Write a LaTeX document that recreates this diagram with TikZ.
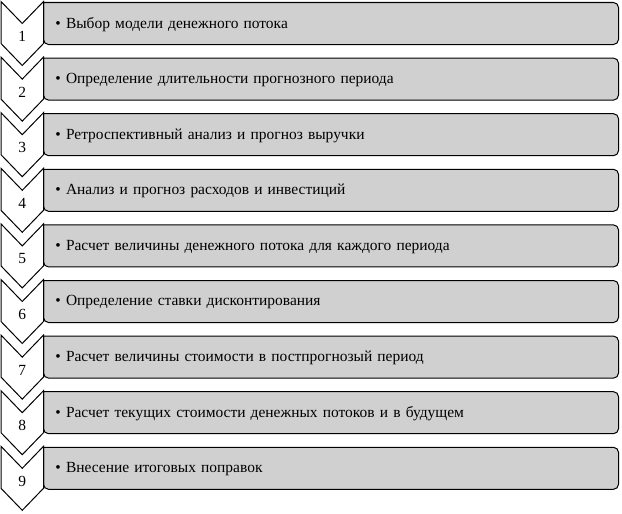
\documentclass[tikz,border=0pt]{standalone}
\usepackage{fontspec}
\setmainfont{Liberation Serif}
\usetikzlibrary{positioning}
\definecolor{boxgray}{RGB}{208,208,208}

\begin{document}
\begin{tikzpicture}[
                    x=0.75pt, y=-0.75pt,
                    line width=0.75pt,
                    font=\fontsize{11.6pt}{13.6pt}\selectfont,
                    stepbox/.style={anchor=north west, inner xsep=8.6pt, inner ysep=0pt,
                                    minimum width=430.5pt, minimum height=30.75pt,
                                    text width=413.3pt, align=left},
                    boxline/.style={draw=black, fill=boxgray},
                    chevbox/.style={draw=black, fill=white, line join=miter},
                    numtext/.style={inner sep=0pt},
            ]
            \useasboundingbox (0,0) rectangle (622,514);
            \foreach \i/\txt in {1/{Выбор модели денежного потока},
                                 2/{Определение длительности прогнозного периода},
                                 3/{Ретроспективный анализ и прогноз выручки},
                                 4/{Анализ и прогноз расходов и инвестиций},
                                 5/{Расчет величины денежного потока для каждого периода},
                                 6/{Определение ставки дисконтирования},
                                 7/{Расчет величины стоимости в постпрогнозый период},
                                 8/{Расчет текущих стоимости денежных потоков и в будущем},
                                 9/{Внесение итоговых поправок}} {
                    \pgfmathsetmacro\yt{2.5+55.6*(\i-1)}
                    \node[stepbox] (box\i) at (43.5,\yt) {};
                    \draw[boxline] (box\i.north west) [rounded corners=3.75pt] -- (box\i.north east)
                            -- (box\i.south east) -- (box\i.south west) [sharp corners] -- cycle;
                    \node[stepbox] (text\i) at (43.5,\yt+1) {\textbullet\ \txt};
                    \draw[chevbox] (1,\yt-1) -- (22.25,\yt+21) -- (43.5,\yt-1) -- (43.5,\yt+41)
                            -- (22.25,\yt+63) -- (1,\yt+41) -- cycle;
                    \node[numtext] (num\i) at (22.25,\yt+34) {\i};
            }
\end{tikzpicture}
\end{document}
